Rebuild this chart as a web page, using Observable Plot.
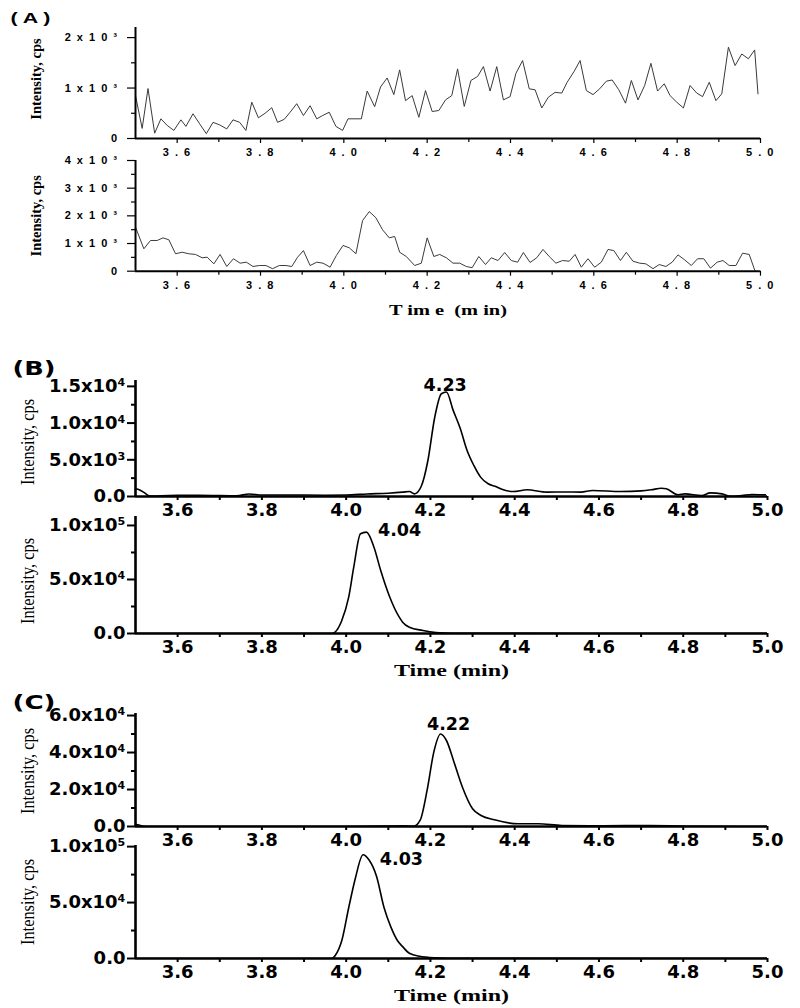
<!DOCTYPE html>
<html><head><meta charset="utf-8">
<script src="https://cdn.jsdelivr.net/npm/d3@7"></script>
<script src="https://cdn.jsdelivr.net/npm/@observablehq/plot@0.6"></script>
<style>
body{margin:0;background:#fff;}
#chart{position:relative;width:800px;height:1008px;overflow:hidden;background:#fff;}
#chart svg{position:absolute;left:0;overflow:visible;background:transparent;}
</style></head><body><div id="chart"></div>
<script>
// ---------- data ----------
const a1Time = [3.500,3.516,3.530,3.546,3.561,3.576,3.592,3.609,3.621,3.638,3.654,3.670,3.686,3.702,3.719,3.734,3.750,3.765,3.779,3.795,3.811,3.827,3.841,3.857,3.871,3.887,3.903,3.919,3.935,3.949,3.965,3.981,3.997,4.010,4.042,4.056,4.074,4.088,4.104,4.120,4.134,4.148,4.164,4.180,4.196,4.212,4.228,4.244,4.259,4.273,4.289,4.305,4.321,4.335,4.351,4.367,4.383,4.399,4.413,4.429,4.445,4.459,4.475,4.491,4.507,4.523,4.536,4.553,4.567,4.582,4.598,4.614,4.630,4.644,4.660,4.676,4.690,4.706,4.722,4.737,4.753,4.769,4.783,4.799,4.815,4.831,4.847,4.861,4.877,4.893,4.907,4.923,4.939,4.955,4.971,4.986,4.994];
const a1Int = [850,200,990,105,390,260,160,370,240,490,290,95,320,270,190,370,320,160,720,410,500,610,320,380,520,690,455,650,390,455,520,240,160,390,390,940,630,1020,1200,870,1360,750,850,420,950,535,555,765,850,1380,635,1150,1230,1425,940,1425,765,830,1290,1545,985,965,605,820,915,900,1115,1335,1545,950,870,985,1135,1160,965,700,1150,765,1050,1490,940,1085,850,720,605,1050,900,830,1115,750,885,1810,1445,1675,1580,1755,885];

const a2Time = [3.500,3.520,3.536,3.552,3.566,3.580,3.596,3.612,3.628,3.644,3.660,3.672,3.688,3.703,3.719,3.735,3.751,3.766,3.782,3.797,3.813,3.829,3.845,3.861,3.875,3.889,3.903,3.919,3.935,3.950,3.967,3.982,3.998,4.013,4.029,4.045,4.061,4.077,4.093,4.109,4.122,4.134,4.150,4.170,4.186,4.200,4.216,4.230,4.246,4.262,4.278,4.294,4.308,4.324,4.340,4.354,4.370,4.386,4.402,4.417,4.431,4.447,4.463,4.478,4.493,4.509,4.525,4.541,4.555,4.570,4.586,4.602,4.618,4.634,4.648,4.664,4.678,4.694,4.710,4.725,4.742,4.757,4.773,4.788,4.802,4.818,4.834,4.849,4.864,4.880,4.896,4.910,4.925,4.941,4.957,4.973,4.987];
const a2Int = [1590,810,1110,1110,1205,1135,630,685,630,605,485,505,265,605,170,450,290,325,170,205,205,90,205,205,170,505,745,205,325,290,145,565,930,845,630,1830,2155,1930,1495,1205,1255,685,530,205,290,1205,530,605,485,290,290,170,125,530,240,485,385,675,385,325,675,315,485,785,530,290,385,360,605,145,450,145,325,785,745,385,685,360,290,265,90,240,170,325,590,410,205,450,450,110,325,385,205,205,650,605,0];

const b1Time = [3.500,3.510,3.519,3.530,3.540,3.560,3.600,3.650,3.700,3.740,3.770,3.800,3.850,3.900,3.950,4.000,4.050,4.100,4.134,4.150,4.162,4.178,4.194,4.210,4.226,4.238,4.254,4.271,4.287,4.303,4.319,4.337,4.353,4.373,4.397,4.429,4.477,4.520,4.557,4.585,4.652,4.700,4.724,4.748,4.760,4.788,4.804,4.844,4.864,4.892,4.912,4.939,4.963,4.995];
const b1Int = [1050,900,600,150,50,100,150,150,120,100,350,200,200,200,180,200,350,450,590,680,360,1360,4900,10730,14000,14230,11730,9230,6270,4230,2640,1730,1400,910,680,910,590,620,590,820,680,760,910,1130,1050,230,360,136,500,360,40,136,270,230];

const b2Time = [3.500,3.966,3.989,4.006,4.018,4.034,4.048,4.066,4.082,4.102,4.126,4.134,4.150,4.182,4.213,4.250,5.000];
const b2Int = [0,0,11400,33600,61400,92300,93800,79900,58300,35200,15100,10500,5800,2800,900,200,0];

const c1Time = [3.500,3.510,3.520,3.530,4.000,4.100,4.134,4.160,4.176,4.192,4.208,4.224,4.238,4.256,4.276,4.300,4.320,4.352,4.408,4.456,4.512,4.610,4.720,4.850,5.000];
const c1Int = [1000,700,100,0,0,200,400,160,3600,19500,40200,50000,46500,34800,21200,9550,5950,3600,1460,1460,540,400,500,100,0];

const c2Time = [3.500,3.966,3.974,3.990,4.006,4.022,4.040,4.054,4.072,4.090,4.106,4.122,4.134,4.150,4.174,4.213,4.260,5.000];
const c2Int = [0,0,2700,16500,45400,72000,92700,88200,73500,45400,28300,15900,10600,4700,2000,600,100,0];

const peakLabels = ["4.23","4.04","4.22","4.03"];
const peakTimes  = [4.235,4.04,4.224,4.03];
const peakValues = [14230,93800,50000,92700];

const xMajor = [3.6,3.8,4.0,4.2,4.4,4.6,4.8,5.0];
const xMinor = [3.7,3.9,4.1,4.3,4.5,4.7,4.9];

const a1YTicks = [0,1000,2000], a1YMinor = [500,1500];
const a2YTicks = [0,1000,2000,3000,4000], a2YMinor = [500,1500,2500,3500];
const b1YTicks = [0,5000,10000,15000], b1YLabels = ["0.0","5.0x10³","1.0x10⁴","1.5x10⁴"], b1YMinor = [2500,7500,12500];
const b2YTicks = [0,50000,100000], b2YLabels = ["0.0","5.0x10⁴","1.0x10⁵"], b2YMinor = [25000,75000];
const c1YTicks = [0,20000,40000,60000], c1YLabels = ["0.0","2.0x10⁴","4.0x10⁴","6.0x10⁴"], c1YMinor = [10000,30000,50000];
const c2YTicks = [0,50000,100000], c2YLabels = ["0.0","5.0x10⁴","1.0x10⁵"], c2YMinor = [25000,75000];

// ---------- helpers ----------
const zip = (t, v) => t.map((d, i) => ({t: d, v: v[i]}));
const fmtA = d => d === 0 ? "0" : `${d / 1000} x 1 0 ³`;
const fmtAx = d => d.toFixed(1).split("").join(" ");
const lookup = (ticks, labels) => d => labels[ticks.indexOf(d)];

const chart = document.getElementById("chart");

function panel(o) {
  const mt = 25, mb = 45;
  const isA = o.kind === "A";
  const aw = isA ? 2 : 2.6;
  const tickFont = isA
    ? {fontFamily: "Liberation Sans, Arial, sans-serif", fontSize: 11, fontWeight: "bold"}
    : {fontFamily: "DejaVu Sans, sans-serif", fontSize: 18, fontWeight: "bold"};
  const marks = [
    Plot.axisY({ticks: o.yMinor, tickSize: 4, tickFormat: () => "", label: null, strokeWidth: isA ? 1.2 : 2}),
    Plot.axisY({ticks: o.yTicks, tickSize: 8, tickPadding: isA ? 9 : 2, tickFormat: o.yFmt, label: null, strokeWidth: isA ? 1.2 : 2, ...tickFont}),
    Plot.axisX({ticks: xMinor, tickSize: 4, tickFormat: () => "", label: null, strokeWidth: isA ? 1.2 : 2}),
    Plot.axisX({ticks: xMajor, tickSize: isA ? 5 : 4, tickPadding: isA ? 5 : 3, tickFormat: isA ? fmtAx : (d => d.toFixed(1)), label: null, strokeWidth: isA ? 1.2 : 2, ...tickFont}),
    Plot.line(o.data, {x: "t", y: "v", stroke: isA ? "#3a3a3a" : "#000", strokeWidth: isA ? 1 : 1.6, curve: isA ? "linear" : "monotone-x", clip: true}),
    Plot.ruleX([3.5], {stroke: "#000", strokeWidth: aw}),
    Plot.ruleY([0], {stroke: "#000", strokeWidth: aw}),
    Plot.text(["Intensity, cps"], {frameAnchor: "left", textAnchor: "middle", rotate: -90, dx: isA ? -99 : -108, dy: o.ylDy, lineAnchor: "middle",
      fontFamily: "Liberation Serif, Times New Roman, serif", fontSize: isA ? 14.5 : 19, fontWeight: isA ? "bold" : "normal", fill: "#000"})
  ];
  if (o.letter) marks.push(Plot.text([o.letter], {frameAnchor: "top-left", textAnchor: "start", dx: isA ? -125 : -123, dy: o.letterDy, lineAnchor: "middle",
      fontFamily: isA ? "Liberation Sans, Arial, sans-serif" : "DejaVu Sans, sans-serif", fontSize: isA ? 14 : 20, fontWeight: "bold", fill: "#000"}));
  if (o.xTitle) marks.push(Plot.text([o.xTitle], {frameAnchor: "bottom", textAnchor: "middle", dy: o.xTitleDy, lineAnchor: "middle",
      fontFamily: "Liberation Serif, Times New Roman, serif", fontSize: isA ? 14 : 16, fontWeight: "bold", fill: "#000"}));
  if (o.peak != null) marks.push(Plot.text([o.peak], {x: i => peakTimes[i], y: i => peakValues[i], text: i => peakLabels[i],
      dx: o.peakDx, dy: o.peakDy, textAnchor: o.peakAnchor, lineAnchor: "middle",
      fontFamily: "DejaVu Sans, sans-serif", fontSize: 17.5, fontWeight: "bold", fill: "#000"}));
  const svg = Plot.plot({
    width: 800,
    height: mt + (o.bottom - o.top) + mb,
    marginTop: mt, marginBottom: mb, marginLeft: 135, marginRight: o.right,
    x: {domain: [3.5, 5.0], label: null},
    y: {domain: [0, o.yMax], label: null},
    style: {background: "transparent", color: "#000", overflow: "visible"},
    marks
  });
  svg.style.top = (o.top - mt) + "px";
  if (isA) {
    svg.querySelectorAll('g[aria-label="x-axis tick label"] text, g[aria-label="y-axis tick label"] text')
      .forEach(t => t.style.letterSpacing = "1.5px");
  }
  chart.appendChild(svg);
  return svg;
}

const svgs = [
  panel({kind: "A", top: 27, bottom: 138, yMax: 2200, right: 40, data: zip(a1Time, a1Int),
    yTicks: a1YTicks, yMinor: a1YMinor, yFmt: fmtA, ylDy: -4, letter: "( A )", letterDy: -9}),
  panel({kind: "A", top: 160, bottom: 270.7, yMax: 4000, right: 40, data: zip(a2Time, a2Int),
    yTicks: a2YTicks, yMinor: a2YMinor, yFmt: fmtA, ylDy: 0, xTitle: "T im e  (m in)", xTitleDy: 39}),
  panel({kind: "B", top: 380, bottom: 496, yMax: 15800, right: 33, data: zip(b1Time, b1Int),
    yTicks: b1YTicks, yMinor: b1YMinor, yFmt: lookup(b1YTicks, b1YLabels), ylDy: 3.5, letter: "(B)", letterDy: -12,
    peak: 0, peakDx: 0, peakDy: -7, peakAnchor: "middle"}),
  panel({kind: "B", top: 516, bottom: 633, yMax: 108300, right: 33, data: zip(b2Time, b2Int),
    yTicks: b2YTicks, yMinor: b2YMinor, yFmt: lookup(b2YTicks, b2YLabels), ylDy: 6, xTitle: "Time (min)", xTitleDy: 37,
    peak: 1, peakDx: 15, peakDy: -2, peakAnchor: "start"}),
  panel({kind: "C", top: 713, bottom: 826, yMax: 61100, right: 33, data: zip(c1Time, c1Int),
    yTicks: c1YTicks, yMinor: c1YMinor, yFmt: lookup(c1YTicks, c1YLabels), ylDy: 1, letter: "(C)", letterDy: -11,
    peak: 2, peakDx: 8, peakDy: -10, peakAnchor: "middle"}),
  panel({kind: "C", top: 845, bottom: 958, yMax: 101000, right: 33, data: zip(c2Time, c2Int),
    yTicks: c2YTicks, yMinor: c2YMinor, yFmt: lookup(c2YTicks, c2YLabels), ylDy: 0, xTitle: "Time (min)", xTitleDy: 37,
    peak: 3, peakDx: 21, peakDy: 5, peakAnchor: "start"})
];

// stretch some texts horizontally to match the reference proportions
const widths = {"( A )": 40, "(B)": 43, "(C)": 43, "Time (min)": 115, "T im e  (m in)": 118};
svgs.forEach((svg, i) => {
  svg.querySelectorAll("text").forEach(t => {
    const s = t.textContent;
    if (widths[s]) { t.setAttribute("textLength", widths[s]); t.setAttribute("lengthAdjust", "spacingAndGlyphs"); }
    if (s === "Intensity, cps" && i >= 2) { t.setAttribute("textLength", 86); t.setAttribute("lengthAdjust", "spacingAndGlyphs"); }
  });
});
</script></body></html>
